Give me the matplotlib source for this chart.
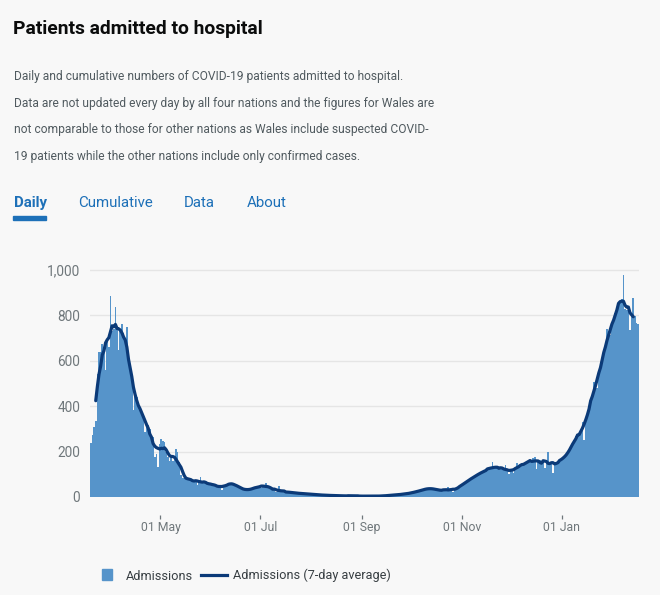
import matplotlib
matplotlib.use("Agg")
import matplotlib.pyplot as plt
import matplotlib.patches as mpatches
import matplotlib.lines as mlines
import pandas as pd

W, H = 660, 595
BG = "#f8f8f8"
BAR = "#5694ca"
LINE = "#0b3a78"
BLUE = "#1d70b8"

plt.rcParams["font.family"] = ["Roboto", "DejaVu Sans"]

# daily admissions, one value per day from 19 Mar 2020
start_date = "2020-03-19"
admissions = [
    238, 272, 308, 333, 540, 637, 637,
    675, 653, 557, 680, 660, 886, 730,
    740, 835, 742, 647, 735, 760, 720,
    700, 748, 615, 557, 515, 384, 450,
    440, 420, 395, 370, 360, 286, 330,
    315, 300, 270, 262, 177, 190, 133,
    235, 255, 246, 243, 200, 177, 160,
    172, 160, 165, 213, 200, 155, 97,
    85, 82, 84, 80, 78, 75, 78,
    72, 68, 52, 70, 86, 66, 62,
    64, 58, 60, 56, 55, 52, 54,
    50, 48, 45, 31, 44, 50, 55,
    62, 60, 63, 58, 55, 52, 42,
    40, 38, 36, 32, 30, 28, 30,
    35, 38, 42, 44, 48, 45, 40,
    48, 50, 62, 44, 42, 38, 34,
    30, 24, 26, 50, 22, 22, 24,
    23, 22, 21, 20, 19, 18, 18,
    17, 16, 16, 15, 14, 14, 13,
    12, 12, 11, 11, 10, 10, 9,
    9, 9, 8, 8, 8, 7, 7,
    7, 6, 6, 6, 6, 5, 5,
    5, 5, 5, 5, 5, 4, 10,
    5, 4, 4, 4, 4, 4, 4,
    3, 4, 4, 3, 4, 4, 3,
    4, 4, 4, 5, 5, 6, 6,
    7, 7, 8, 8, 9, 9, 15,
    10, 11, 12, 13, 15, 16, 17,
    19, 20, 22, 24, 26, 28, 30,
    32, 34, 36, 38, 40, 38, 36,
    34, 32, 30, 28, 28, 30, 29,
    30, 45, 32, 30, 22, 34, 36,
    40, 45, 50, 56, 62, 66, 70,
    75, 80, 85, 90, 94, 98, 102,
    106, 110, 114, 118, 120, 122, 126,
    155, 124, 126, 128, 130, 128, 126,
    122, 140, 118, 99, 115, 118, 107,
    125, 148, 130, 135, 140, 145, 148,
    152, 155, 158, 162, 172, 175, 122,
    160, 162, 160, 158, 126, 152, 199,
    150, 148, 104, 150, 152, 155, 160,
    165, 170, 172, 180, 190, 200, 215,
    235, 250, 268, 272, 276, 280, 328,
    249, 345, 370, 395, 410, 432, 505,
    505, 480, 540, 565, 600, 630, 665,
    740, 710, 712, 770, 770, 810, 815,
    860, 862, 870, 975, 825, 822, 815,
    735, 805, 874, 795, 765, 762,
]

tick_dates = ["2020-05-01", "2020-07-01", "2020-09-01", "2020-11-01", "2021-01-01"]
tick_labels = ["01 May", "01 Jul", "01 Sep", "01 Nov", "01 Jan"]
y_ticks = [0, 200, 400, 600, 800, 1000]

description = [
    "Daily and cumulative numbers of COVID-19 patients admitted to hospital.",
    "Data are not updated every day by all four nations and the figures for Wales are",
    "not comparable to those for other nations as Wales include suspected COVID-",
    "19 patients while the other nations include only confirmed cases.",
]
tabs = ["Daily", "Cumulative", "Data", "About"]

dates = pd.date_range(start_date, periods=len(admissions), freq="D")
avg7 = pd.Series(admissions).rolling(7, center=True).mean()


def fx(x):
    return x / W


def fy(y):
    return 1 - y / H


fig = plt.figure(figsize=(W / 100, H / 100), dpi=100, facecolor=BG)

# header text
fig.text(fx(13), fy(34), "Patients admitted to hospital", fontsize=13.9,
         fontweight="bold", color="#0b0c0c")
for i, line in enumerate(description):
    fig.text(fx(14), fy(80 + i * 26.6), line, fontsize=8.65, color="#505a5f")

tab_x = [14, 78, 184, 247]
for name, x in zip(tabs, tab_x):
    fig.text(fx(x), fy(207), name, fontsize=10.8, color=BLUE,
             fontweight="bold" if name == "Daily" else "normal")
fig.patches.append(mpatches.Rectangle((fx(13), fy(220)), (46 - 13) / W, 4 / H,
                                      transform=fig.transFigure, color=BLUE))

# chart
ax = fig.add_axes([fx(90), fy(497), (639 - 90) / W, 228 / H])
ax.set_facecolor(BG)
ax.bar(dates, admissions, width=1.0, align="edge", color=BAR, linewidth=0)
ax.plot(dates + pd.Timedelta(hours=12), avg7, color=LINE, lw=2.3,
        solid_capstyle="round", solid_joinstyle="round")

ax.set_xlim(dates[0], dates[-1] + pd.Timedelta(days=1))
ax.set_ylim(0, 1003)
ax.set_yticks(y_ticks)
ax.set_yticklabels([f"{v:,}" for v in y_ticks])
ax.set_xticks(pd.to_datetime(tick_dates))
ax.set_xticklabels(tick_labels)

ax.yaxis.grid(True, color="#e5e5e5", lw=1)
ax.set_axisbelow(True)
for s in ["top", "right", "left"]:
    ax.spines[s].set_visible(False)
ax.spines["bottom"].set_position(("outward", 13))
ax.spines["bottom"].set_color("none")
ax.tick_params(axis="y", length=0, pad=7, labelsize=9.8, labelcolor="#6f777b")
ax.tick_params(axis="x", length=3, width=0.9, color="#6f777b", pad=1.5,
               labelsize=8.8, labelcolor="#6f777b")

# legend
fig.patches.append(mpatches.Rectangle((fx(102), fy(580)), 10 / W, 11 / H,
                                      transform=fig.transFigure, color=BAR))
fig.text(fx(126), fy(579.5), "Admissions", fontsize=9.2, color="#383f43")
fig.lines.append(mlines.Line2D([fx(201), fx(227)], [fy(574.5), fy(574.5)],
                               transform=fig.transFigure, color=LINE, lw=2.3))
fig.text(fx(233), fy(579.5), "Admissions (7-day average)", fontsize=9.2, color="#383f43")

fig.savefig("out.png", dpi=100, facecolor=BG)
